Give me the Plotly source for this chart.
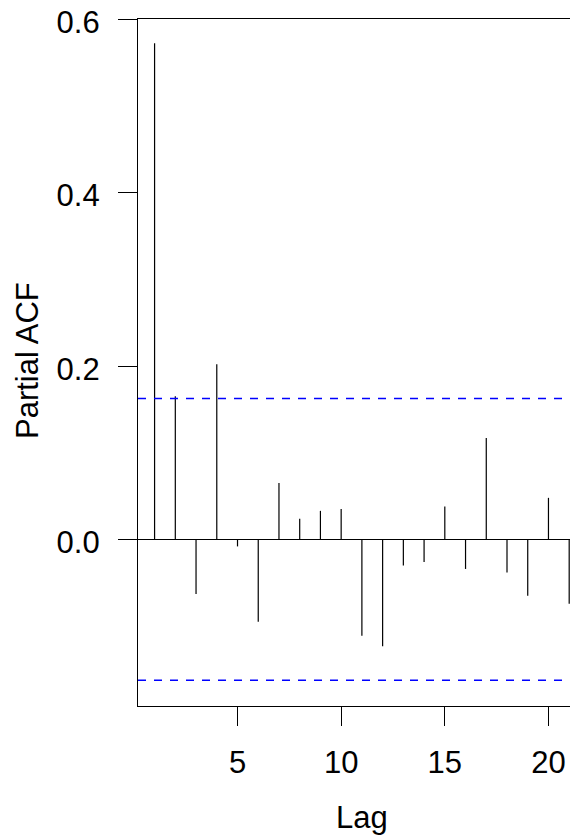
import plotly.graph_objects as go

lags = list(range(1, 22))
pacf_values = [0.572, 0.165, -0.063, 0.202, -0.008, -0.095, 0.065, 0.024, 0.033,
               0.035, -0.111, -0.123, -0.030, -0.026, 0.038, -0.034, 0.117, -0.038,
               -0.065, 0.048, -0.074]
conf_limit = 0.1624
x_ticks = [5, 10, 15, 20]
y_ticks = [0.0, 0.2, 0.4, 0.6]
y_tick_labels = ["0.0", "0.2", "0.4", "0.6"]

FONT = "Liberation Sans, Arial, Helvetica, sans-serif"
FS = 31

xs, ys = [], []
for lag, v in zip(lags, pacf_values):
    xs += [lag, lag, None]
    ys += [0, v, None]

fig = go.Figure()
fig.add_trace(go.Scatter(x=xs, y=ys, mode="lines",
                         line=dict(color="black", width=1.2),
                         hoverinfo="skip", showlegend=False))
for c in (conf_limit, -conf_limit):
    fig.add_hline(y=c, line=dict(color="#0000FF", width=1.5, dash="8px,8px"))

# page body has an 8px default margin; the figure is sized to fill the rest
fig.update_layout(
    width=570, height=829,
    margin=dict(l=130, r=0, t=11, b=131, autoexpand=False),
    paper_bgcolor="white", plot_bgcolor="white",
    font=dict(family=FONT, size=FS, color="black"),
    showlegend=False,
    xaxis=dict(range=[0.2, 21.425], tickvals=x_ticks, ticks="outside",
               ticklen=19, tickwidth=1.2, tickcolor="black", ticklabelstandoff=10,
               showline=True, linecolor="black", linewidth=1.2, mirror=True,
               showgrid=False, zeroline=False, ticklabeloverflow="allow",
               automargin=False, tickfont=dict(family=FONT, size=FS)),
    yaxis=dict(range=[-0.1920, 0.6001], tickvals=y_ticks, ticktext=y_tick_labels,
               ticks="outside", ticklen=19, tickwidth=1.2, tickcolor="black",
               ticklabelstandoff=12, ticklabelshift=3, ticklabeloverflow="allow",
               automargin=False,
               showline=True, linecolor="black", linewidth=1.2, mirror=False,
               showgrid=False, zeroline=True, zerolinecolor="black", zerolinewidth=1.2,
               tickfont=dict(family=FONT, size=FS)),
    annotations=[
        dict(text="Lag", xref="paper", yref="paper", x=0.509, y=-0.162,
             xanchor="center", yanchor="middle", showarrow=False,
             font=dict(family=FONT, size=FS)),
        dict(text="Partial ACF", xref="paper", yref="paper", x=-0.2523, y=0.5036,
             xanchor="center", yanchor="middle", textangle=-90, showarrow=False,
             font=dict(family=FONT, size=FS)),
    ],
)

fig.write_html("out.html")
